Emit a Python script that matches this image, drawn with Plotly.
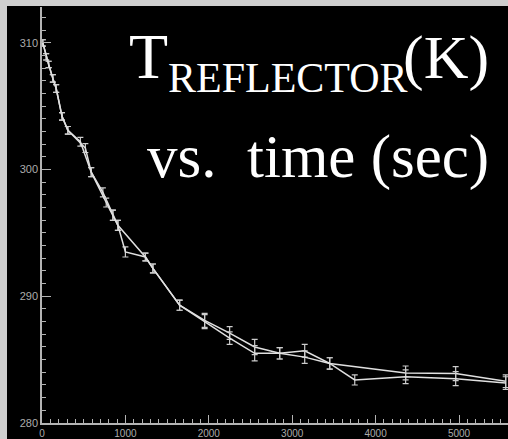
import plotly.graph_objects as go

# ---- data ----
time_a = [10, 50, 80, 130, 170, 240, 310, 460, 590, 730, 850, 910, 1240, 1330,
          1650, 1950, 2250, 2550, 2850, 3150, 3450, 4360, 4960, 5560]
temp_a = [310.0, 308.9, 308.3, 307.2, 306.4, 304.2, 303.1, 302.2, 299.8, 298.2,
          296.4, 295.6, 293.1, 292.2, 289.3, 288.1, 287.1, 286.0, 285.5, 285.7,
          284.7, 283.95, 283.9, 283.3]
err_a = [0.25, 0.25, 0.25, 0.3, 0.3, 0.3, 0.3, 0.35, 0.35, 0.35, 0.4, 0.4, 0.3, 0.35,
         0.4, 0.55, 0.5, 0.6, 0.45, 0.5, 0.45, 0.55, 0.55, 0.5]

time_b = [10, 50, 80, 130, 170, 240, 310, 520, 590, 770, 850, 910, 1000, 1240, 1330,
          1650, 1950, 2250, 2550, 2850, 3150, 3450, 3750, 4360, 4960, 5560]
temp_b = [310.0, 308.9, 308.3, 307.2, 306.4, 304.2, 303.1, 301.7, 299.8, 297.4,
          296.4, 295.6, 293.5, 293.1, 292.2, 289.3, 288.0, 286.7, 285.5, 285.5,
          285.2, 284.7, 283.4, 283.65, 283.5, 283.15]
err_b = [0.25, 0.25, 0.25, 0.3, 0.3, 0.3, 0.3, 0.35, 0.35, 0.35, 0.4, 0.4, 0.4, 0.3, 0.35,
         0.4, 0.55, 0.5, 0.6, 0.45, 0.5, 0.45, 0.4, 0.55, 0.55, 0.5]

x_ticks = [0, 1000, 2000, 3000, 4000, 5000]
y_ticks = [280, 290, 300, 310]

title_main = "T"
title_sub = "REFLECTOR"
title_unit = "(K)"
title_line2 = "vs.\u00a0\u00a0time (sec)"

# ---- figure ----
W, H = 508, 439
ML, MR, MT, MB = 42, 0, 7, 16
PW, PH = W - ML - MR, H - MT - MB


def px(x):
    return (x - ML) / PW


def py(y):
    return (H - MB - y) / PH


line_col = "#e0e0e0"
fig = go.Figure()
for t, v, e in [(time_a, temp_a, err_a), (time_b, temp_b, err_b)]:
    fig.add_trace(go.Scatter(
        x=t, y=v, mode="lines",
        line=dict(color=line_col, width=1.5),
        error_y=dict(type="data", array=e, visible=True, color="#cccccc",
                     thickness=1.2, width=3),
        showlegend=False, hoverinfo="skip"))

axis_col = "#b4b4b4"
fig.update_xaxes(range=[0, PW / 0.0834], showgrid=False, zeroline=False,
                 showline=True, linecolor=axis_col, linewidth=1.5, automargin=False,
                 tickmode="array", tickvals=x_ticks, ticktext=[str(v) for v in x_ticks],
                 ticks="inside", ticklen=8, tickcolor=axis_col, tickwidth=1,
                 minor=dict(dtick=100, ticks="inside", ticklen=4, tickcolor=axis_col,
                            tickwidth=1, showgrid=False),
                 tickfont=dict(family="Liberation Sans", size=10, color="#acacac"))
fig.update_yaxes(range=[280, 280 + PH / 12.67], showgrid=False, zeroline=False,
                 showline=True, linecolor=axis_col, linewidth=1.5, automargin=False,
                 tickmode="array", tickvals=y_ticks, ticktext=[str(v) for v in y_ticks],
                 ticks="inside", ticklen=9, tickcolor=axis_col, tickwidth=1,
                 minor=dict(dtick=1, ticks="inside", ticklen=4, tickcolor=axis_col,
                            tickwidth=1, showgrid=False),
                 tickfont=dict(family="Liberation Sans", size=11, color="#acacac"))

serif = "Liberation Serif"


def ann(text, xp, yp, size, xanchor):
    fig.add_annotation(text=text, x=px(xp), y=py(yp), xref="paper", yref="paper",
                       xanchor=xanchor, yanchor="middle", showarrow=False,
                       font=dict(family=serif, size=size, color="white"))


ann(title_main, 127, 78 - 0.3375 * 64, 64, "left")
ann(title_sub, 166, 92 - 0.3375 * 42, 42, "left")
ann(title_unit, 491, 78 - 0.3375 * 62, 62, "right")
ann(title_line2, 491, 178 - 0.3375 * 61, 61, "right")

# light frame strips at the top and left edges of the picture
fig.add_shape(type="rect", xref="paper", yref="paper",
              x0=px(7), x1=px(W + 5), y0=py(H + 5), y1=py(6),
              fillcolor="black", line=dict(width=0), layer="below")

fig.update_layout(width=W, height=H, margin=dict(l=ML, r=MR, t=MT, b=MB),
                  paper_bgcolor="#cfcfcf", plot_bgcolor="black")

fig.write_html("out.html")
